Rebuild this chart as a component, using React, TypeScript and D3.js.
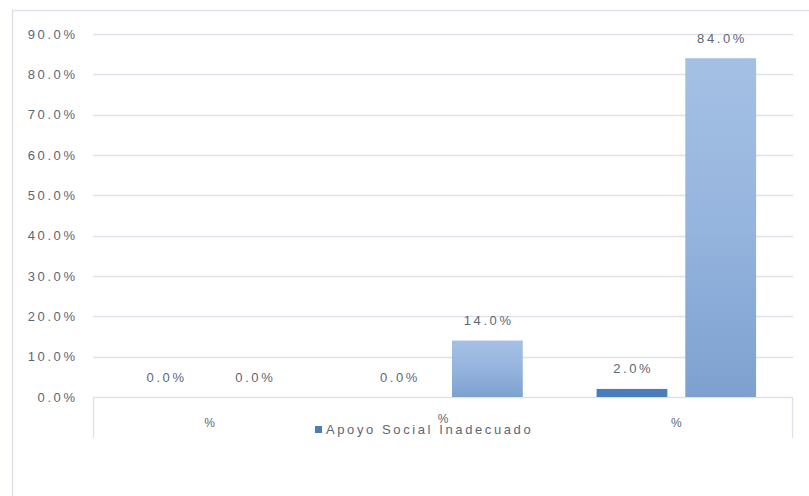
import React from "react";
import * as d3 from "d3";

const categories = ["%", "% ", "%  "];
const categoryLabels = ["%", "%", "%"];
const seriesNames = ["Apoyo Social Inadecuado", "Apoyo Social Adecuado"];
const series1 = [0.0, 0.0, 2.0];
const series2 = [0.0, 14.0, 84.0];
const yTicks = [0, 10, 20, 30, 40, 50, 60, 70, 80, 90];

const W = 809;
const H = 496;
const plot = { left: 93, right: 793, top: 34, bottom: 397 };
const FONT = "'Liberation Sans', Arial, sans-serif";
const TEXT = "#5e6674";
const GRID = "#dde2ea";
const LS = 2.6;

export default function App() {
  const x = d3.scaleBand<string>().domain(categories).range([plot.left, plot.right]).padding(0);
  const inner = d3
    .scaleBand<string>()
    .domain(["s1", "s2"])
    .range([0, x.bandwidth()])
    .paddingInner(0.202)
    .paddingOuter(0.416);
  const y = d3.scaleLinear().domain([0, 90]).range([plot.bottom, plot.top]);
  const fmt = (v: number) => v.toFixed(1) + "%";

  const seriesData = [
    { key: "s1", values: series1, fill: "#4a7ebb" },
    { key: "s2", values: series2, fill: "url(#gradLight)" },
  ];

  return (
    <svg
      width={W}
      height={H}
      style={{ position: "absolute", left: 0, top: 0, background: "#fff" }}
      fontFamily={FONT}
    >
      <defs>
        <linearGradient id="gradLight" x1="0" y1="0" x2="0" y2="1">
          <stop offset="0%" stopColor="#a5c0e4" />
          <stop offset="50%" stopColor="#95b4de" />
          <stop offset="100%" stopColor="#7da1cf" />
        </linearGradient>
      </defs>
      {/* chart border */}
      <line x1={12} x2={W} y1={10.5} y2={10.5} stroke={GRID} strokeWidth={1.5} />
      <line x1={12.5} x2={12.5} y1={10} y2={H} stroke={GRID} strokeWidth={1.5} />

      {/* gridlines */}
      {yTicks.map((t) => (
        <line
          key={t}
          x1={plot.left}
          x2={plot.right}
          y1={Math.round(y(t)) + 0.5}
          y2={Math.round(y(t)) + 0.5}
          stroke={GRID}
          strokeWidth={1.3}
        />
      ))}
      {/* category axis edges */}
      <line x1={plot.left + 0.5} x2={plot.left + 0.5} y1={plot.bottom} y2={438} stroke={GRID} strokeWidth={1.3} />
      <line x1={plot.right - 0.5} x2={plot.right - 0.5} y1={plot.bottom} y2={438} stroke={GRID} strokeWidth={1.3} />

      {/* y tick labels */}
      {yTicks.map((t) => (
        <text
          key={"l" + t}
          x={75 + LS}
          y={y(t)}
          dy="0.35em"
          textAnchor="end"
          fontSize={13}
          letterSpacing={LS}
          fill={TEXT}
        >
          {fmt(t)}
        </text>
      ))}

      {/* bars */}
      {seriesData.map((s) =>
        s.values.map((v, i) => {
          const bx = (x(categories[i]) ?? 0) + (inner(s.key) ?? 0);
          const top = y(v);
          return (
            <g key={s.key + i}>
              {v > 0 && (
                <rect x={bx} y={top} width={inner.bandwidth()} height={y(0) - top} fill={s.fill} />
              )}
              <text
                x={bx + inner.bandwidth() / 2 + LS / 2}
                y={top - 20}
                dy="0.35em"
                textAnchor="middle"
                fontSize={13}
                letterSpacing={LS}
                fill={TEXT}
              >
                {fmt(v)}
              </text>
            </g>
          );
        })
      )}

      {/* category labels */}
      {categories.map((c, i) => (
        <text
          key={c}
          x={(x(c) ?? 0) + x.bandwidth() / 2}
          y={i === 1 ? 419 : 423}
          dy="0.35em"
          textAnchor="middle"
          fontSize={12}
          fill={TEXT}
        >
          {categoryLabels[i]}
        </text>
      ))}

      {/* legend */}
      <rect x={315} y={426} width={7} height={7} fill="#4a7ebb" />
      <text x={326} y={429.5} dy="0.35em" fontSize={13} letterSpacing={LS} fill={TEXT}>
        {seriesNames[0]}
      </text>
    </svg>
  );
}
